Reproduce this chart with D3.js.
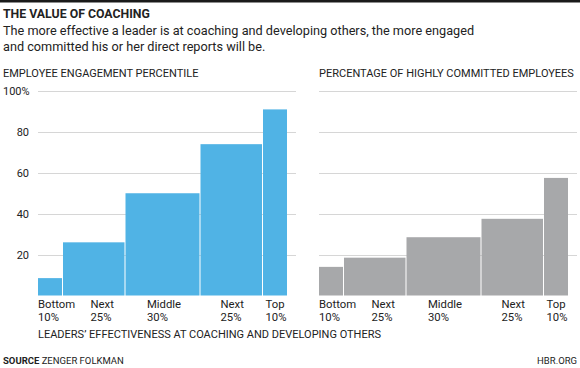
<!DOCTYPE html>
<html>
<head>
<meta charset="utf-8">
<script src="https://cdn.jsdelivr.net/npm/d3@7"></script>
<style>
  body { margin: 0; background: #fff; }
  svg { display: block; font-family: Roboto, "Noto Sans", sans-serif; }
</style>
</head>
<body>
<svg id="chart" width="580" height="368"></svg>
<script>
// leader groups (share of leaders, in %)
const groups = ["Bottom", "Next", "Middle", "Next", "Top"];
const shares = [10, 25, 30, 25, 10];
const shareLabels = ["10%", "25%", "30%", "25%", "10%"];
// where each group label starts, on the 0-100 leader axis
const labelAt = [0, 21, 43.6, 73, 91];

const engagement = [8.5, 26, 50, 74, 91];
const committed = [14, 18.5, 28.5, 37.5, 57.5];

const yTicks = [20, 40, 60, 80, 100];

const svg = d3.select("#chart");

svg.append("rect").attr("x", 0).attr("y", 0).attr("width", 580).attr("height", 2.5).attr("fill", "#1a1a1a");

svg.append("text").attr("x", 3).attr("y", 18)
  .style("font-size", "12.3px").style("font-weight", "bold").attr("fill", "#222")
  .text("THE VALUE OF COACHING");
svg.append("text").attr("x", 3).attr("y", 35)
  .style("font-size", "12.7px").attr("fill", "#222")
  .text("The more effective a leader is at coaching and developing others, the more engaged");
svg.append("text").attr("x", 3).attr("y", 51)
  .style("font-size", "12.7px").attr("fill", "#222")
  .text("and committed his or her direct reports will be.");

const y = d3.scaleLinear().domain([0, 100]).range([295.5, 91]);

// cumulative starts for the variable-width bars
const starts = shares.map((s, i) => d3.sum(shares.slice(0, i)));

function drawPanel(opts) {
  const x = d3.scaleLinear().domain([0, 100]).range([opts.x0, opts.x0 + 250]);
  const g = svg.append("g");

  g.append("text").attr("x", opts.titleX).attr("y", 77)
    .style("font-size", "11px").attr("fill", "#222")
    .text(opts.title);

  g.selectAll("line.grid").data(yTicks).enter().append("line")
    .attr("class", "grid")
    .attr("x1", opts.x0).attr("x2", opts.x0 + opts.gridW)
    .attr("y1", d => Math.round(y(d)) + 0.5).attr("y2", d => Math.round(y(d)) + 0.5)
    .attr("stroke", "#d6d6d6").attr("stroke-width", 1);

  if (opts.axis) {
    g.selectAll("text.tick").data(yTicks).enter().append("text")
      .attr("class", "tick")
      .attr("x", d => d === 100 ? 3 : 29)
      .attr("y", d => y(d) + 4)
      .attr("text-anchor", d => d === 100 ? "start" : "end")
      .style("font-size", "11px").attr("fill", "#222")
      .text(d => d === 100 ? d + "%" : d);
  }

  g.selectAll("rect.bar").data(opts.values).enter().append("rect")
    .attr("class", "bar")
    .attr("x", (d, i) => x(starts[i]))
    .attr("width", (d, i) => x(starts[i] + shares[i]) - x(starts[i]) - 1)
    .attr("y", d => y(d))
    .attr("height", d => y(0) - y(d))
    .attr("fill", opts.color);

  const lab = g.selectAll("text.cat").data(groups).enter().append("text")
    .attr("class", "cat")
    .attr("x", (d, i) => x(labelAt[i]))
    .attr("y", 308)
    .style("font-size", "11.3px").attr("fill", "#222");
  lab.append("tspan").text(d => d);
  lab.append("tspan").attr("x", (d, i) => x(labelAt[i])).attr("dy", 13).text((d, i) => shareLabels[i]);
}

drawPanel({ x0: 38, gridW: 258, titleX: 3, title: "EMPLOYEE ENGAGEMENT PERCENTILE",
  values: engagement, color: "#50b3e5", axis: true });
drawPanel({ x0: 319, gridW: 258, titleX: 319, title: "PERCENTAGE OF HIGHLY COMMITTED EMPLOYEES",
  values: committed, color: "#a7a8aa", axis: false });

svg.append("text").attr("x", 38).attr("y", 338)
  .style("font-size", "11px").attr("fill", "#222")
  .text("LEADERS\u2019 EFFECTIVENESS AT COACHING AND DEVELOPING OTHERS");

const src = svg.append("text").attr("x", 3).attr("y", 364)
  .style("font-size", "9.5px").attr("fill", "#222");
src.append("tspan").style("font-weight", "bold").text("SOURCE ");
src.append("tspan").text("ZENGER FOLKMAN");

svg.append("text").attr("x", 577).attr("y", 364).attr("text-anchor", "end")
  .style("font-size", "9.5px").attr("fill", "#222")
  .text("HBR.ORG");
</script>
</body>
</html>
